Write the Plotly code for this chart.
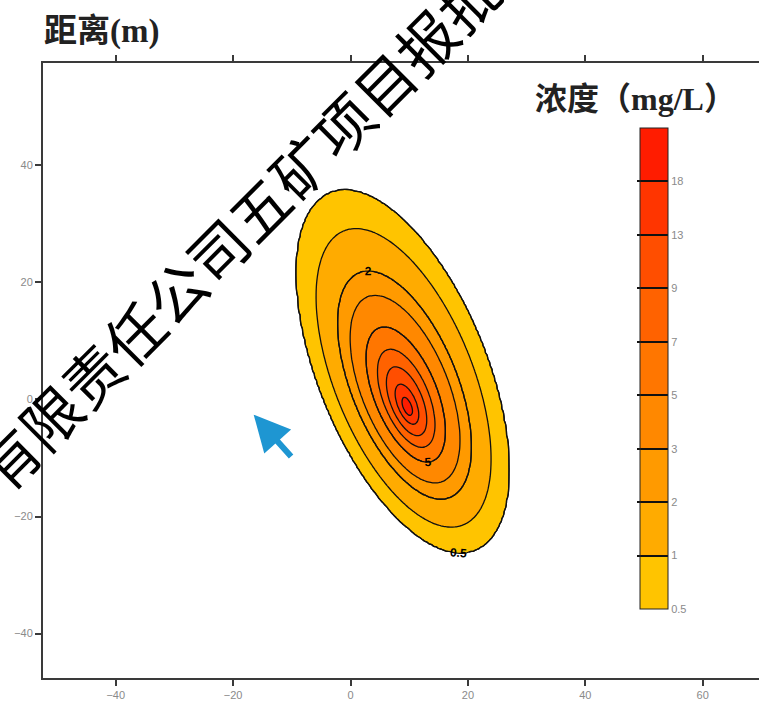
import numpy as np
import plotly.graph_objects as go

# ---------------- data ----------------
levels = [0.5, 1, 2, 3, 5, 7, 9, 13, 18]          # contour / colour-bar levels (mg/L)
level_labels = ["0.5", "1", "2", "3", "5", "7", "9", "13", "18"]
# relative size of each contour ring (outer 0.5 ring = 1.0), measured on the image
level_scale = [1.0, 0.824, 0.628, 0.518, 0.372, 0.27, 0.19, 0.11, 0.05]
peak_value = 22.0
peak_center = (9.7, -1.5)        # m, centre of the innermost rings
outer_center = (8.9, 4.8)        # m, centre of the 0.5 ring
outer_semi_major = 32.9          # m
outer_semi_minor = 14.3          # m
tilt_deg = 22.0                  # major axis tilt from vertical

band_colors = ["#FFC400", "#FFAB00", "#FF9A00", "#FF8800", "#FF7600",
               "#FF6200", "#FF4E00", "#FF3500", "#FF1C00"]

x_ticks = [-40, -20, 0, 20, 40, 60]
y_ticks = [-40, -20, 0, 20, 40]
x_range = [-52.4, 69.6]
y_range = [-47.6, 57.5]

flow_arrow_tip = (-16.5, -2.6)
flow_arrow_tail = (-9.9, -10.0)

watermark = "有限责任公司五矿项目报批"

# ---------------- concentration field ----------------
xs = np.arange(-53, 71, 0.4)
ys = np.arange(-48, 58, 0.4)
X, Y = np.meshgrid(xs, ys)
t = np.radians(tilt_deg)


def to_axes(dx, dy):
    u = -dx * np.sin(t) + dy * np.cos(t)
    v = dx * np.cos(t) + dy * np.sin(t)
    return u / outer_semi_major, v / outer_semi_minor


# ring of size s: centre = peak_center + s*(outer_center-peak_center), axes scaled by s
qx, qy = to_axes(X - peak_center[0], Y - peak_center[1])
ex, ey = to_axes(outer_center[0] - peak_center[0], outer_center[1] - peak_center[1])
A = ex ** 2 + ey ** 2 - 1.0
B = -2.0 * (qx * ex + qy * ey)
Cq = qx ** 2 + qy ** 2
s = (-B - np.sqrt(B ** 2 - 4 * A * Cq)) / (2 * A)

r_pts = [0.0] + level_scale[::-1] + [1.6]
c_pts = [peak_value] + levels[::-1] + [0.05]
C = np.interp(s, r_pts, c_pts)

# band index for the filled contour (non-uniform levels)
top_idx = len(levels) - 1 + (peak_value - levels[-1]) / (levels[-1] - levels[-2])
idx = np.interp(C, [0.05] + levels + [peak_value], [-1] + list(range(len(levels))) + [top_idx])

nb = len(levels)
fill_scale = [[0.0, "#FFFFFF"]] + [[(k + 1) / nb, band_colors[k]] for k in range(nb)]

fig = go.Figure()
fig.add_trace(go.Contour(
    x=xs, y=ys, z=idx,
    contours=dict(start=0, end=nb - 1, size=1, coloring="fill", showlines=True),
    colorscale=fill_scale, showscale=False,
    line=dict(color="#111", width=1.3), hoverinfo="skip",
))

for lv in [0.5, 2, 5]:
    fig.add_trace(go.Contour(
        x=xs, y=ys, z=C,
        contours=dict(start=lv, end=lv, size=1, coloring="none", showlabels=True,
                      labelfont=dict(size=12, color="black", family="Liberation Sans",
                                     weight="bold")),
        line=dict(color="#111", width=1.3), showscale=False, hoverinfo="skip",
    ))

# colour bar
cb_scale = []
for k in range(nb):
    cb_scale.append([k / nb, band_colors[k]])
    cb_scale.append([(k + 1) / nb, band_colors[k]])
fig.add_trace(go.Scatter(
    x=[None], y=[None], mode="markers", showlegend=False, hoverinfo="skip",
    marker=dict(color=[0], cmin=0, cmax=nb, colorscale=cb_scale, showscale=True,
                colorbar=dict(
                    x=(640 - 43) / 716, xanchor="left", xpad=0,
                    y=(678 - 609) / 615, yanchor="bottom", ypad=0,
                    len=(609 - 128) / 615, lenmode="fraction",
                    thickness=28, outlinecolor="#222", outlinewidth=1,
                    tickvals=list(range(nb)), ticktext=level_labels,
                    ticks="inside", ticklen=31, tickcolor="#111", tickwidth=2,
                    tickfont=dict(size=11, color="#8a8a8a", family="Liberation Sans"),
                ))))

# top axis helper trace
fig.add_trace(go.Scatter(x=[None], y=[None], xaxis="x2", showlegend=False, hoverinfo="skip"))

axis_common = dict(showgrid=False, zeroline=False, showline=True, linecolor="#3a3a3a",
                   linewidth=2, ticks="outside", ticklen=6, tickwidth=1.5,
                   tickcolor="#3a3a3a",
                   tickfont=dict(size=11, color="#8a8a8a", family="Liberation Sans"))

fig.update_layout(
    width=759, height=706,
    margin=dict(l=43, r=0, t=63, b=28),
    paper_bgcolor="white", plot_bgcolor="white",
    showlegend=False,
    xaxis=dict(range=x_range, tickvals=x_ticks, **axis_common),
    xaxis2=dict(range=x_range, tickvals=x_ticks, overlaying="x", side="top",
                anchor="y", showticklabels=False,
                **{k: v for k, v in axis_common.items() if k != "tickfont"}),
    yaxis=dict(range=y_range, tickvals=y_ticks, **axis_common),
    annotations=[
        dict(text="<b>距离(m)</b>", x=-0.002, xref="paper", xanchor="left",
             y=(678 - 31) / 615, yref="paper", yanchor="middle", showarrow=False,
             font=dict(size=33, color="#222", family="Liberation Serif, Noto Sans CJK SC")),
        dict(text="<b>浓度（mg/L）</b>", x=(635 - 43) / 716, xref="paper", xanchor="center",
             y=(678 - 99) / 615, yref="paper", yanchor="middle", showarrow=False,
             font=dict(size=32, color="#222", family="Liberation Serif, Noto Sans CJK SC")),
        dict(text="", x=flow_arrow_tip[0], y=flow_arrow_tip[1], xref="x", yref="y",
             ax=flow_arrow_tail[0], ay=flow_arrow_tail[1], axref="x", ayref="y",
             showarrow=True, arrowhead=2, arrowsize=1.2, arrowwidth=6,
             arrowcolor="#1E96D2"),
        dict(text=watermark, x=(237 - 43) / 716, y=(678 - 228) / 615,
             xref="paper", yref="paper", xanchor="center", yanchor="middle",
             textangle=-45, showarrow=False,
             font=dict(size=59, color="black", family="Noto Sans CJK SC")),
    ],
)

fig.write_html("out.html", config={"displayModeBar": False},
               post_script="document.body.style.margin='0';")
